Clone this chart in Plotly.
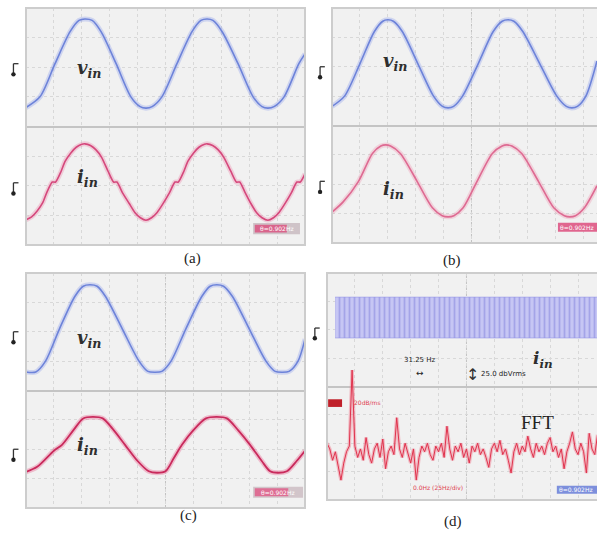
import numpy as np
import plotly.graph_objects as go

# ---------------- data (x in screen divisions, y in vertical divisions) ----------------
# panel (a)
a_v_t = [0.0, 0.50, 1.04, 1.58, 1.90, 2.11, 2.37, 2.69, 3.23, 3.76, 4.09, 4.30, 4.52, 4.87, 5.41, 5.95,
         6.27, 6.49, 6.70, 7.03, 7.60, 8.14, 8.46, 8.67, 8.89, 9.25, 9.78, 10.0]
a_v = [0.64, 1.0, 2.12, 3.2, 3.58, 3.63, 3.58, 3.2, 2.12, 1.0, 0.67, 0.62, 0.67, 1.0, 2.12, 3.2,
       3.58, 3.63, 3.58, 3.2, 2.12, 1.0, 0.67, 0.62, 0.67, 1.0, 2.12, 2.45]
a_i_t = [0.0, 0.2, 0.4, 0.6, 0.74, 0.94, 1.06, 1.26, 1.4, 1.6, 1.8, 2.0, 2.11, 2.31, 2.51, 2.71,
         2.94, 3.14, 3.26, 3.46, 3.7, 3.9, 4.1, 4.3, 4.5, 4.7, 4.9, 5.14, 5.34, 5.46, 5.66, 5.8,
         6.0, 6.2, 6.4, 6.49, 6.69, 6.89, 7.09, 7.34, 7.54, 7.66, 7.86, 8.06, 8.26, 8.46, 8.67,
         8.87, 9.07, 9.27, 9.51, 9.71, 9.83, 10.0]
a_i = [-3.15, -3.05, -2.85, -2.57, -2.24, -1.875, -1.875, -1.51, -1.18, -0.90, -0.70, -0.60, -0.585,
       -0.64, -0.79, -1.04, -1.51, -1.875, -1.875, -2.24, -2.6, -2.9, -3.08, -3.165, -3.08, -2.9,
       -2.62, -2.24, -1.875, -1.875, -1.51, -1.18, -0.90, -0.70, -0.60, -0.585, -0.64, -0.79,
       -1.04, -1.51, -1.875, -1.875, -2.24, -2.6, -2.9, -3.08, -3.165, -3.08, -2.9, -2.62, -2.24,
       -1.875, -1.875, -1.6]

# panel (b)
b_v_t = [0.0, 0.45, 1.0, 1.52, 1.82, 2.0, 2.2, 2.52, 3.08, 3.64, 3.96, 4.16, 4.36, 4.68, 5.24, 5.78,
         6.1, 6.31, 6.52, 6.84, 7.45, 8.06, 8.4, 8.6, 8.8, 9.1, 9.5]
b_v = [0.65, 1.0, 2.1, 3.2, 3.55, 3.6, 3.55, 3.2, 2.1, 1.0, 0.65, 0.6, 0.65, 1.0, 2.1, 3.2,
       3.55, 3.6, 3.55, 3.2, 2.1, 1.0, 0.65, 0.6, 0.65, 1.0, 2.2]
b_i_t = [0.0, 0.4, 0.95, 1.45, 1.75, 1.92, 2.1, 2.45, 3.05, 3.6, 3.95, 4.16, 4.37, 4.7, 5.2, 5.75,
         6.1, 6.27, 6.45, 6.8, 7.4, 7.95, 8.33, 8.53, 8.73, 9.05, 9.5]
b_i = [-2.95, -2.6, -1.9, -0.95, -0.7, -0.66, -0.7, -0.95, -1.9, -2.8, -3.07, -3.11, -3.07, -2.8,
       -1.9, -0.95, -0.7, -0.66, -0.7, -0.95, -1.9, -2.8, -3.07, -3.11, -3.07, -2.8, -2.05]

# panel (c)
c_v_t = [0.0, 0.35, 0.7, 1.2, 1.75, 2.05, 2.29, 2.55, 2.85, 3.45, 4.05, 4.37, 4.62, 4.87, 5.2, 5.73,
         6.3, 6.6, 6.84, 7.08, 7.4, 8.0, 8.6, 8.93, 9.18, 9.43, 9.75, 10.0]
c_v = [0.63, 0.63, 1.0, 2.1, 3.2, 3.55, 3.6, 3.55, 3.2, 2.1, 1.0, 0.65, 0.62, 0.65, 1.0, 2.1,
       3.2, 3.55, 3.6, 3.55, 3.2, 2.1, 1.0, 0.65, 0.62, 0.65, 1.0, 1.75]
c_i_t = [0.0, 0.4, 1.0, 1.29, 1.7, 2.05, 2.4, 2.75, 3.1, 3.55, 4.0, 4.4, 4.69, 5.0, 5.3, 5.59,
         6.0, 6.45, 6.84, 7.2, 7.6, 8.03, 8.45, 8.75, 9.03, 9.35, 9.7, 10.0]
c_i = [-2.77, -2.6, -2.05, -1.85, -1.35, -0.95, -0.9, -0.95, -1.3, -1.85, -2.4, -2.75, -2.8, -2.75,
       -2.3, -1.85, -1.35, -0.95, -0.9, -0.95, -1.35, -1.85, -2.4, -2.75, -2.8, -2.75, -2.4, -2.05]

# panel (d): time-domain band envelope and FFT magnitude (one value per 0.1 division bin)
d_band_t = [0.29, 1.5, 3.0, 4.5, 6.0, 7.5, 9.0, 9.68]
d_band_top = [3.15, 3.16, 3.15, 3.15, 3.16, 3.15, 3.15, 3.15]
d_band_bot = [1.71, 1.70, 1.71, 1.71, 1.70, 1.71, 1.71, 1.71]
fft_bin_width = 0.1
fft_vals = [-2.0, -2.2, -2.6, -2.3, -2.8, -3.3, -2.7, -2.3, -2.1, 0.58,
            -2.1, -2.5, -2.2, -2.6, -1.8, -2.4, -2.7, -2.2, -2.0, -2.5,
            -1.85, -2.9, -2.3, -2.1, -2.4, -1.1, -2.2, -2.5, -2.0, -2.4,
            -2.7, -2.2, -3.3, -2.5, -2.1, -2.3, -2.0, -2.4, -2.6, -2.1,
            -2.3, -2.0, -2.5, -1.4, -2.2, -2.6, -2.1, -2.3, -2.0, -2.5,
            -2.2, -2.7, -2.1, -2.3, -2.0, -2.4, -2.2, -2.5, -2.85, -2.2,
            -2.0, -2.3, -1.9, -2.4, -2.2, -2.6, -3.05, -2.3, -2.0, -2.4,
            -2.1, -2.3, -1.75, -2.2, -2.5, -2.0, -2.3, -2.1, -2.4, -2.0,
            -1.8, -2.3, -2.1, -2.5, -2.2, -2.9, -2.3, -2.0, -1.6, -2.2,
            -2.4, -2.0, -2.3, -3.05, -1.65, -2.2, -2.4, -1.7]

panel_labels = ["(a)", "(b)", "(c)", "(d)"]
readout_txt = "θ=0.902Hz"
fft_hz_div = "31.25 Hz"
fft_db_div = "25.0 dbVrms"
fft_ref = "20dB/ms"
fft_start = "0.0Hz (25Hz/div)"

# ---------------- figure ----------------
W, H = 597, 536
BLUE = "#6d83d9"
BLUE_HALO = "rgba(125,145,235,0.30)"
SERIF = "DejaVu Serif"
CAP = "Liberation Serif"

fig = go.Figure()

panels = {
    "a": dict(x=[26 / W, 305 / W], y=[1 - 245 / H, 1 - 8 / H], xr=[0, 10], ax=""),
    "b": dict(x=[332 / W, 1.0], y=[1 - 243 / H, 1 - 8 / H], xr=[0, 9.5], ax="2"),
    "c": dict(x=[26 / W, 305 / W], y=[1 - 508 / H, 1 - 273 / H], xr=[0, 10], ax="3"),
    "d": dict(x=[327 / W, 1.0], y=[1 - 500 / H, 1 - 273 / H], xr=[0, 9.68], ax="4"),
}

layout = dict(
    width=W, height=H, margin=dict(l=0, r=0, t=0, b=0),
    paper_bgcolor="white", plot_bgcolor="#f1f1f1", showlegend=False,
)
shapes = []
annotations = []

for key, p in panels.items():
    ax = p["ax"]
    layout["xaxis" + ax] = dict(
        domain=p["x"], range=p["xr"], dtick=1, tick0=0, showticklabels=False,
        showgrid=True, gridcolor="#d8d8d8", griddash="dot", gridwidth=1,
        zeroline=False, showline=False, anchor="y" + ax, fixedrange=True,
    )
    layout["yaxis" + ax] = dict(
        domain=p["y"], range=[-4, 4], dtick=1, tick0=0, showticklabels=False,
        showgrid=True, gridcolor="#d8d8d8", griddash="dot", gridwidth=1,
        zeroline=True, zerolinecolor="#c4c4c4", zerolinewidth=2,
        showline=False, anchor="x" + ax, fixedrange=True,
    )
    xr = "x" + ax if ax else "x"
    yr = "y" + ax if ax else "y"
    x1 = 1.06 if key in ("b", "d") else 1.0
    shapes.append(dict(type="rect", xref=xr + " domain", yref=yr + " domain",
                       x0=0, x1=x1, y0=0, y1=1, line=dict(color="#cdcdcd", width=2),
                       layer="above"))
    shapes.append(dict(type="line", xref=xr, yref=yr + " domain", x0=5, x1=5, y0=0, y1=1,
                       line=dict(color="#c2c2c2", width=1, dash="dot"), layer="below"))


def add_wave(t, v, ax, color, halo, width=1.6, smoothing=0.8):
    xa = "x" + ax if ax else "x"
    ya = "y" + ax if ax else "y"
    fig.add_trace(go.Scatter(x=t, y=v, xaxis=xa, yaxis=ya, mode="lines",
                             line=dict(color=halo, width=5, shape="spline", smoothing=smoothing),
                             hoverinfo="skip"))
    fig.add_trace(go.Scatter(x=t, y=v, xaxis=xa, yaxis=ya, mode="lines",
                             line=dict(color=color, width=width, shape="spline", smoothing=smoothing)))


add_wave(a_v_t, a_v, "", BLUE, BLUE_HALO)
add_wave(a_i_t, a_i, "", "#d5487c", "rgba(235,120,160,0.30)", smoothing=0.6)
add_wave(b_v_t, b_v, "2", BLUE, BLUE_HALO)
add_wave(b_i_t, b_i, "2", "#de6a92", "rgba(240,140,170,0.30)")
add_wave(c_v_t, c_v, "3", BLUE, BLUE_HALO)
add_wave(c_i_t, c_i, "3", "#c92a5c", "rgba(235,110,150,0.40)", width=1.8)

# panel (d) band
fig.add_trace(go.Scatter(x=d_band_t, y=d_band_bot, xaxis="x4", yaxis="y4", mode="lines",
                         line=dict(color="rgba(150,150,230,0.6)", width=1), hoverinfo="skip"))
fig.add_trace(go.Scatter(x=d_band_t, y=d_band_top, xaxis="x4", yaxis="y4", mode="lines",
                         line=dict(color="rgba(150,150,230,0.6)", width=1), fill="tonexty",
                         fillcolor="#c3c3f3",
                         fillpattern=dict(shape="|", size=5, solidity=0.35,
                                          fgcolor="#a4a4e8", bgcolor="#c6c6f4", fillmode="replace"),
                         hoverinfo="skip"))

# FFT
fft_x = np.arange(len(fft_vals)) * fft_bin_width
fig.add_trace(go.Scatter(x=fft_x, y=fft_vals, xaxis="x4", yaxis="y4", mode="lines",
                         line=dict(color="rgba(240,120,140,0.45)", width=3.5), hoverinfo="skip"))
fig.add_trace(go.Scatter(x=fft_x, y=fft_vals, xaxis="x4", yaxis="y4", mode="lines",
                         line=dict(color="#e0334d", width=1)))

# trigger / ground markers
markers = [("", 2.12), ("", -1.9), ("2", 2.0), ("2", -1.9), ("3", 2.0), ("3", -2.0), ("4", 2.06)]
for ax, lvl in markers:
    xr = ("x" + ax if ax else "x") + " domain"
    yr = "y" + ax if ax else "y"
    xm = -0.045
    shapes.append(dict(type="line", xref=xr, yref=yr, x0=xm, x1=xm, y0=lvl, y1=lvl - 0.33,
                       line=dict(color="#333", width=1.3)))
    shapes.append(dict(type="line", xref=xr, yref=yr, x0=xm, x1=xm + 0.018, y0=lvl, y1=lvl,
                       line=dict(color="#333", width=1.3)))
    shapes.append(dict(type="circle", xref=xr, yref=yr, xsizemode="pixel", ysizemode="pixel",
                       xanchor=xm, yanchor=lvl - 0.36, x0=-2.2, x1=2.2, y0=-2.2, y1=2.2,
                       fillcolor="#222", line=dict(width=0)))


def label(txt, ax, x, y, size=19, color="#2e2e2e", family=SERIF, **kw):
    annotations.append(dict(text=txt, xref="x" + ax if ax else "x", yref="y" + ax if ax else "y",
                            x=x, y=y, showarrow=False,
                            font=dict(family=family, size=size, color=color), **kw))


V = "<b><i>v</i></b><sub><b><i>in</i></b></sub>"
I = "<b><i>i</i></b><sub><b><i>in</i></b></sub>"
label(V, "", 2.26, 1.95, size=18)
label(I, "", 2.22, -1.75, size=18)
label(V, "2", 2.26, 2.16, size=18)
label(I, "2", 2.19, -2.2, size=18)
label(V, "3", 2.26, 1.75, size=18)
label(I, "3", 2.22, -1.9, size=18)
label(I, "4", 7.74, 0.95, size=17)
label("FFT", "4", 7.56, -1.28, size=19, color="#222", family=CAP)


def box(ax, x0, x1, y0, y1, color):
    xr = "x" + ax if ax else "x"
    yr = "y" + ax if ax else "y"
    shapes.append(dict(type="rect", xref=xr, yref=yr, x0=x0, x1=x1, y0=y0, y1=y1,
                       fillcolor=color, line=dict(width=0), layer="above"))


def small(txt, ax, x, y, color="#ffffff", size=6, **kw):
    annotations.append(dict(text=txt, xref="x" + ax if ax else "x", yref="y" + ax if ax else "y",
                            x=x, y=y, showarrow=False,
                            font=dict(family="DejaVu Sans", size=size, color=color), **kw))


# readouts
box("", 8.14, 9.82, -3.64, -3.26, "#cfc3c8")
box("", 8.2, 9.35, -3.58, -3.32, "rgba(220,70,120,0.75)")
small(readout_txt, "", 8.98, -3.45)
box("2", 8.1, 9.6, -3.62, -3.31, "#e0668f")
small(readout_txt, "2", 9.45, -3.465, xanchor="right")
box("3", 8.14, 9.93, -3.65, -3.28, "#d2c5ca")
box("3", 8.2, 9.4, -3.6, -3.33, "rgba(225,80,130,0.75)")
small(readout_txt, "3", 9.03, -3.46)
box("4", 8.24, 9.75, -3.78, -3.5, "#7d8fdc")
small(readout_txt, "4", 9.62, -3.64, xanchor="right")

# FFT scale texts
small(fft_hz_div, "4", 3.33, 0.95, color="#222", size=7)
small("↔", "4", 3.33, 0.47, color="#222", size=9)
small(fft_db_div, "4", 5.45, 0.45, color="#222", size=7, xanchor="left")
small("↕", "4", 5.23, 0.42, color="#333", size=16)
box("4", 0.04, 0.54, -0.72, -0.45, "#c0202a")
small(fft_ref, "4", 0.9, -0.58, color="#e04050", xanchor="left")
small("N", "4", -0.07, -0.05, color="#d03040")
small(fft_start, "4", 3.98, -3.57, color="#e04050")

# panel captions
for txt, px, py in zip(panel_labels, [182, 463, 178, 464], [259, 260, 526, 532]):
    annotations.append(dict(text=txt, xref="paper", yref="paper", x=px / W, y=1 - py / H,
                            showarrow=False, font=dict(family=CAP, size=15, color="#222")))

layout["shapes"] = shapes
layout["annotations"] = annotations
fig.update_layout(**layout)
fig.write_html("out.html", config={"displayModeBar": False},
               post_script="document.body.style.margin='0px';")
